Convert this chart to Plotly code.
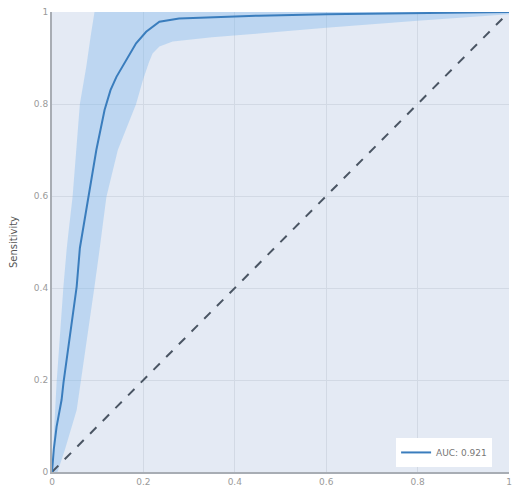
import plotly.graph_objects as go

# ROC curve (false positive rate vs sensitivity)
fpr = [0.0, 0.004, 0.010, 0.021, 0.025, 0.040, 0.054, 0.061, 0.079, 0.097, 0.115, 0.128,
       0.141, 0.162, 0.184, 0.206, 0.235, 0.278, 0.35, 0.452, 0.6, 0.8, 1.0]
tpr = [0.0, 0.05, 0.098, 0.157, 0.193, 0.30, 0.403, 0.487, 0.598, 0.70, 0.787, 0.83,
       0.859, 0.896, 0.932, 0.957, 0.979, 0.986, 0.989, 0.992, 0.995, 0.998, 1.0]

# Confidence band: upper edge
upper_fpr = [0.0, 0.004, 0.010, 0.025, 0.032, 0.036, 0.045, 0.061, 0.075, 0.085, 0.093, 1.0]
upper_tpr = [0.0, 0.08, 0.193, 0.403, 0.483, 0.52, 0.598, 0.80, 0.881, 0.95, 1.0, 1.0]
# Confidence band: lower edge
lower_fpr = [0.012, 0.028, 0.054, 0.093, 0.104, 0.119, 0.144, 0.184, 0.199, 0.212, 0.220,
             0.235, 0.264, 0.35, 0.452, 0.6, 0.8, 1.0]
lower_tpr = [0.0, 0.048, 0.135, 0.403, 0.483, 0.598, 0.70, 0.80, 0.852, 0.89, 0.910,
             0.925, 0.936, 0.945, 0.953, 0.966, 0.981, 0.995]

diag = [0.0, 1.0]
auc_label = "AUC: 0.921"
y_title = "Sensitivity"
tick_vals = [0, 0.2, 0.4, 0.6, 0.8, 1]
tick_text = ["0", "0.2", "0.4", "0.6", "0.8", "1"]

band_x = upper_fpr + lower_fpr[::-1]
band_y = upper_tpr + lower_tpr[::-1]

fig = go.Figure()
fig.add_trace(go.Scatter(x=band_x, y=band_y, fill="toself", mode="none",
                         fillcolor="rgba(120,180,235,0.36)", showlegend=False,
                         hoverinfo="skip"))
fig.add_trace(go.Scatter(x=diag, y=diag, mode="lines",
                         line=dict(color="#4a5563", width=2, dash="dash"),
                         showlegend=False))
fig.add_trace(go.Scatter(x=fpr, y=tpr, mode="lines", name=auc_label,
                         line=dict(color="#3a7dbd", width=2)))

axis_common = dict(
    range=[0, 1], tickvals=tick_vals, ticktext=tick_text,
    showgrid=True, gridcolor="#d2d9e4", gridwidth=1,
    zeroline=False, showline=True, linecolor="#a8adb4", linewidth=2,
    ticks="", ticklabeloverflow="allow",
    tickfont=dict(family="DejaVu Sans", size=9, color="#9a9a9a"),
)

fig.update_layout(
    width=512, height=489,
    margin=dict(l=52, r=0, t=12, b=17, pad=0),
    paper_bgcolor="white", plot_bgcolor="#e4eaf4",
    xaxis=dict(**axis_common),
    yaxis=dict(**axis_common, title=dict(text=y_title, standoff=14,
               font=dict(family="DejaVu Sans", size=10, color="#555555"))),
    legend=dict(x=0.963, y=0.011, xanchor="right", yanchor="bottom",
                bgcolor="white", borderwidth=0,
                font=dict(family="DejaVu Sans", size=9, color="#777777")),
    showlegend=True,
)

fig.write_html("out.html")
